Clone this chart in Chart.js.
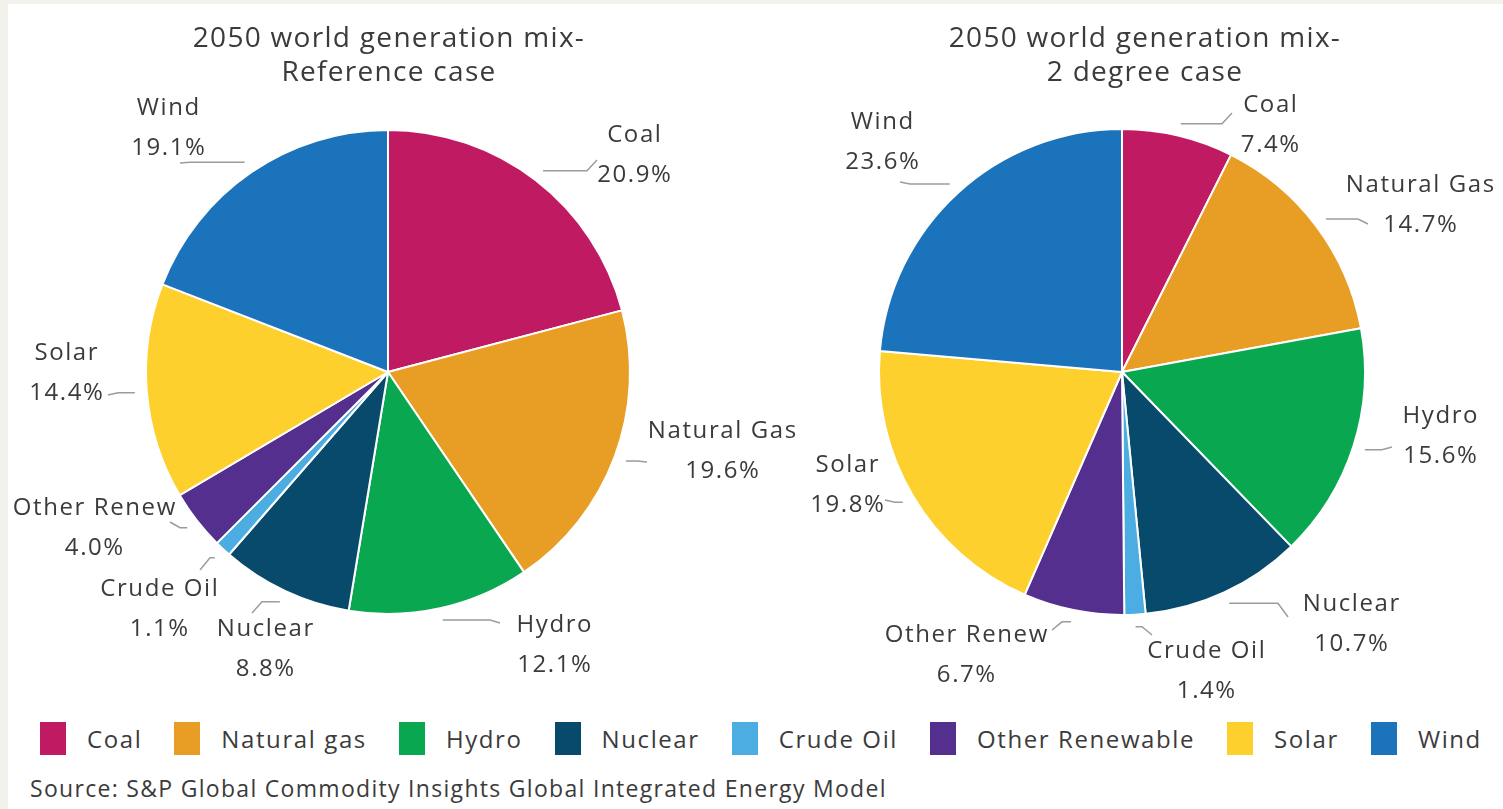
<!DOCTYPE html>
<html>
<head>
<meta charset="utf-8">
<script src="https://cdn.jsdelivr.net/npm/chart.js@4/dist/chart.umd.min.js"></script>
<style>
  html, body { margin: 0; padding: 0; }
  body { width: 1503px; height: 809px; background: #f3f1ec; position: relative; overflow: hidden;
         font-family: "Open Sans", Lato, sans-serif; color: #3b3b3b; }
  #panel { position: absolute; left: 8px; top: 4px; right: 0; bottom: 0; background: #fff; }
  canvas { position: absolute; top: 0; }
  #refCanvas { left: 0; }
  #twoDegCanvas { left: 755px; }
  .title { position: absolute; top: 19px; width: 560px; margin-left: -280px; text-align: center;
           font-size: 28px; line-height: 34px; letter-spacing: 1.3px; }
  #legend { position: absolute; left: 40px; top: 722px; width: max-content; display: flex; align-items: center;
            font-size: 24px; letter-spacing: 1.6px; white-space: nowrap; }
  #legend .item { display: flex; align-items: center; flex-shrink: 0; margin-right: 32px; }
  #legend .swatch { width: 26px; height: 33px; margin-right: 21px; flex-shrink: 0; }
  #source { position: absolute; left: 30px; top: 772px; font-size: 23px; letter-spacing: 1.3px; white-space: nowrap; }
</style>
</head>
<body>
<div id="panel"></div>
<canvas id="refCanvas" width="830" height="705"></canvas>
<canvas id="twoDegCanvas" width="748" height="705"></canvas>
<div class="title" style="left:389px">2050 world generation mix-<br>Reference case</div>
<div class="title" style="left:1145px">2050 world generation mix-<br>2 degree case</div>
<div id="legend"></div>
<div id="source">Source: S&amp;P Global Commodity Insights Global Integrated Energy Model</div>
<script>
// fuel categories, in drawing order (clockwise from 12 o'clock)
const sliceNames = ['Coal', 'Natural Gas', 'Hydro', 'Nuclear', 'Crude Oil', 'Other Renew', 'Solar', 'Wind'];
const legendNames = ['Coal', 'Natural gas', 'Hydro', 'Nuclear', 'Crude Oil', 'Other Renewable', 'Solar', 'Wind'];
const sliceColors = ['#c01b62', '#e89d25', '#0aa751', '#074a6b', '#4badE2', '#552f8e', '#fdd02d', '#1b74bb'];

// share of 2050 generation, %
const referenceShares = [20.9, 19.6, 12.1, 8.8, 1.1, 4.0, 14.4, 19.1];
const twoDegreeShares = [7.4, 14.7, 15.6, 10.7, 1.4, 6.7, 19.8, 23.6];

// label block centres relative to the pie centre, and where the leader meets the text
const refLabelSpots = [[246, -217], [334, 79], [166, 273], [-123, 277], [-229, 237], [-294, 156], [-322, 1], [-220, -244]];
const refLabelTips = [[-37, 5], [-75, 11], [-54, -22], [-13, -36], [41, -39], [76, -6], [42, 22], [12, 35]];
const twoDegLabelSpots = [[148, -247], [298, -167], [318, 64], [229, 252], [84, 299], [-156, 283], [-275, 113], [-240, -230]];
const twoDegLabelTips = [[-38, -12], [-52, 19], [-48, 11], [-63, -7], [-54, -36], [86, -25], [38, 15], [18, 40]];

// names + percentages with elbow leader lines
const sliceLabels = {
  id: 'sliceLabels',
  afterDatasetsDraw(chart, args, opts) {
    const ctx = chart.ctx;
    const arcs = chart.getDatasetMeta(0).data;
    const values = chart.data.datasets[0].data;
    ctx.save();
    ctx.font = '24px "Open Sans", Lato, sans-serif';
    ctx.letterSpacing = '1.6px';
    ctx.textAlign = 'center';
    ctx.textBaseline = 'middle';
    arcs.forEach((arc, i) => {
      const { x, y, startAngle, endAngle, outerRadius } =
        arc.getProps(['x', 'y', 'startAngle', 'endAngle', 'outerRadius'], true);
      const mid = (startAngle + endAngle) / 2;
      const p0x = x + Math.cos(mid) * (outerRadius + opts.gap);
      const p0y = y + Math.sin(mid) * (outerRadius + opts.gap);
      const tx = x + opts.spots[i][0];
      const ty = y + opts.spots[i][1];
      const kx = tx + opts.tips[i][0];
      const ky = ty + opts.tips[i][1];
      const side = Math.sign(kx - p0x) || 1;

      ctx.strokeStyle = '#9c9c9c';
      ctx.lineWidth = 1.5;
      ctx.beginPath();
      ctx.moveTo(p0x, p0y);
      ctx.lineTo(kx - side * 10, p0y);
      ctx.lineTo(kx, ky);
      ctx.stroke();

      // letterSpacing pads the right side too, nudge back by half of it
      ctx.fillStyle = '#3b3b3b';
      ctx.fillText(chart.data.labels[i], tx + 0.8, ty - 20);
      ctx.fillText(values[i].toFixed(1) + '%', tx + 0.8, ty + 20);
    });
    ctx.restore();
  }
};

function makePie(id, shares, spots, tips, padding) {
  return new Chart(document.getElementById(id), {
    type: 'pie',
    data: {
      labels: sliceNames,
      datasets: [{
        data: shares,
        backgroundColor: sliceColors,
        borderColor: '#ffffff',
        borderWidth: 2
      }]
    },
    options: {
      responsive: false,
      animation: false,
      layout: { padding },
      plugins: {
        legend: { display: false },
        tooltip: { enabled: false },
        sliceLabels: { spots, tips, gap: 12 }
      }
    },
    plugins: [sliceLabels]
  });
}

makePie('refCanvas', referenceShares, refLabelSpots, refLabelTips,
  { left: 145, right: 199, top: 129, bottom: 90 });
makePie('twoDegCanvas', twoDegreeShares, twoDegLabelSpots, twoDegLabelTips,
  { left: 123, right: 137, top: 128, bottom: 89 });

// shared legend across both pies
const legend = document.getElementById('legend');
legendNames.forEach((name, i) => {
  const item = document.createElement('div');
  item.className = 'item';
  item.innerHTML = '<span class="swatch" style="background:' + sliceColors[i] + '"></span><span>' + name + '</span>';
  legend.appendChild(item);
});
</script>
</body>
</html>
